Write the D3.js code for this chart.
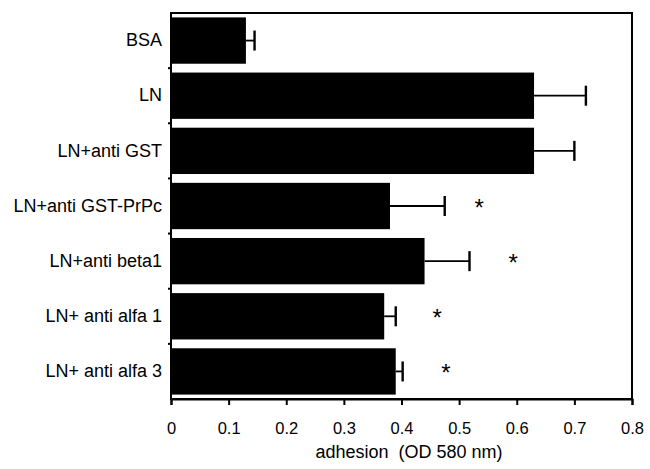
<!DOCTYPE html>
<html><head><meta charset="utf-8">
<script src="https://cdn.jsdelivr.net/npm/d3@7"></script>
<style>body{margin:0;background:#fff}svg{display:block}text{font-family:"Liberation Sans",Arial,sans-serif;fill:#000}</style>
</head><body>
<svg id="c" width="650" height="469"></svg>
<script>
const categories = ["BSA","LN","LN+anti GST","LN+anti GST-PrPc","LN+anti beta1","LN+ anti alfa 1","LN+ anti alfa 3"];
const values = [0.13,0.63,0.63,0.38,0.44,0.37,0.39];
const errors = [0.015,0.09,0.07,0.095,0.078,0.02,0.012];
const significant = [false,false,false,true,true,true,true];
const starAt = [null,null,null,0.535,0.594,0.462,0.477];
const xTicks = [0,0.1,0.2,0.3,0.4,0.5,0.6,0.7,0.8];
const xTitle = "adhesion  (OD 580 nm)";

const svg = d3.select("#c");
const L = 171, R = 632, T = 13, B = 399;
const FONT = '"Liberation Sans",Arial,sans-serif';
const x = d3.scaleLinear().domain([0,0.8]).range([L,R]);
const y = d3.scaleBand().domain(categories).range([T,B]).paddingInner(0.16).paddingOuter(0.08);
const yb = d3.scaleBand().domain(categories).range([T,B]);

// bars
svg.append("g").selectAll("rect").data(categories).join("rect")
  .attr("x", x(0)).attr("y", d=>y(d))
  .attr("width", (d,i)=>x(values[i])-x(0)).attr("height", y.bandwidth())
  .attr("fill","#000");

// error bars
const eg = svg.append("g").attr("stroke","#000");
categories.forEach((c,i)=>{
  const cy = y(c)+y.bandwidth()/2;
  eg.append("line").attr("x1",x(values[i])).attr("x2",x(values[i]+errors[i])).attr("y1",cy).attr("y2",cy).attr("stroke-width",1.8);
  eg.append("line").attr("x1",x(values[i]+errors[i])).attr("x2",x(values[i]+errors[i])).attr("y1",cy-10).attr("y2",cy+10).attr("stroke-width",2.4);
  if (significant[i]) {
    svg.append("text").attr("x",x(starAt[i])).attr("y",cy+10).attr("text-anchor","middle")
      .style("font-size","24px").text("*");
  }
});

// frame
svg.append("rect").attr("x",L).attr("y",T).attr("width",R-L).attr("height",B-T)
  .attr("fill","none").attr("stroke","#000").attr("stroke-width",2);

// x axis
const xa = svg.append("g").attr("transform",`translate(0,${B})`)
  .call(d3.axisBottom(x).tickValues(xTicks).tickFormat(d=>d===0?"0":d3.format(".1f")(d)).tickSize(6).tickPadding(17));
xa.select(".domain").attr("stroke-width",2);
xa.selectAll(".tick line").attr("stroke-width",2);
xa.selectAll("text").style("font-size","16.5px").style("font-family",FONT);

// y axis
const ya = svg.append("g").attr("transform",`translate(${L},0)`)
  .call(d3.axisLeft(yb).tickSize(0).tickPadding(9));
ya.select(".domain").remove();
ya.selectAll("text").style("font-size","18px").style("font-family",FONT);
// band boundary ticks
svg.append("g").selectAll("line").data(categories.slice(1)).join("line")
  .attr("x1",L-3).attr("x2",L).attr("y1",d=>yb(d)).attr("y2",d=>yb(d))
  .attr("stroke","#000").attr("stroke-width",2);

svg.append("text").attr("x",409).attr("y",458).attr("text-anchor","middle")
  .attr("xml:space","preserve").style("white-space","pre")
  .style("font-size","18px").text(xTitle);
</script>
</body></html>
